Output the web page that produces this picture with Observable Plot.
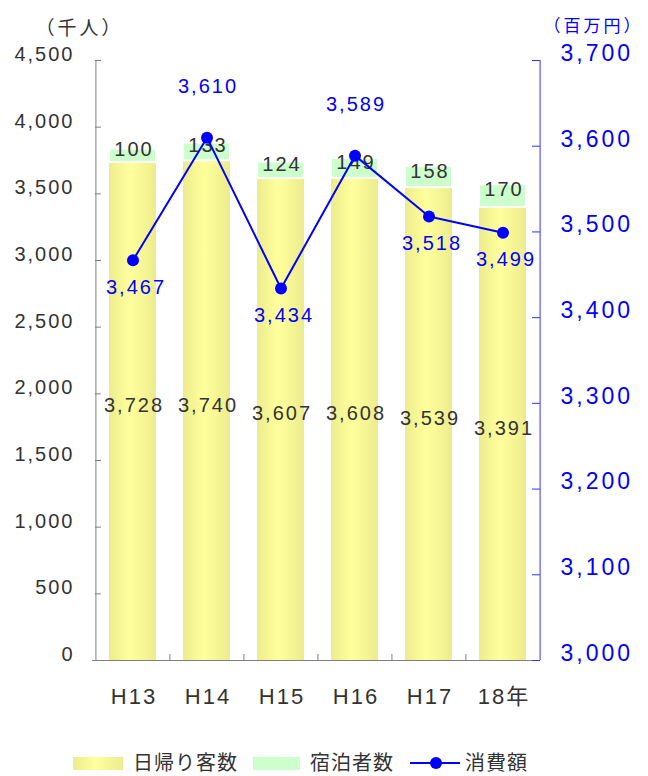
<!DOCTYPE html>
<html><head><meta charset="utf-8">
<script src="https://cdn.jsdelivr.net/npm/d3@7"></script>
<script src="https://cdn.jsdelivr.net/npm/@observablehq/plot@0.6"></script>
<style>
body{margin:0;background:#fff;}
#wrap{position:relative;width:648px;height:776px;overflow:hidden;}
.leg{position:absolute;font-family:'Noto Sans CJK JP',sans-serif;font-size:20px;color:#333;letter-spacing:1px;line-height:20px;white-space:nowrap;}
.sw{position:absolute;}
g[aria-label="y-axis tick label"][text-anchor="start"]{letter-spacing:3px;}
g[font-family*="Noto"]{letter-spacing:3px;}
</style></head><body><div id="wrap"><div id="chart"></div></div>
<script>
// ---- data ----
const years = ["H13","H14","H15","H16","H17","18年"];
const dayTrippers = [3728,3740,3607,3608,3539,3391];
const overnight = [100,133,124,149,158,170];
const spending = [3467,3610,3434,3589,3518,3499];
const leftTicks = [0,500,1000,1500,2000,2500,3000,3500,4000,4500];
const rightTicks = [3000,3100,3200,3300,3400,3500,3600,3700];
const seriesNames = ["日帰り客数","宿泊者数","消費額"];
const unitLeft = ["（千人）"];
const unitRight = ["（百万円）"];

// ---- layout ----
const W = 648, H = 735, mT = 60, mB = 75, mL = 95, mR = 108;
const fw = W - mL - mR, fh = H - mT - mB;
const step = fw / years.length;
const leftDomain = [0, 4500], rightDomain = [3000, 3700];
const toLeft = v => (v - rightDomain[0]) / (rightDomain[1] - rightDomain[0]) * (leftDomain[1] - leftDomain[0]);
const fromLeft = v => Math.round(v / (leftDomain[1] - leftDomain[0]) * (rightDomain[1] - rightDomain[0]) + rightDomain[0]);
const fmt = d3.format(",");
const blue = "#0000ff", axisBlue = "#3333ff", gray = "#808080", ink = "#333333";

const table = years.map((y, i) => ({
  year: y, day: dayTrippers[i], night: overnight[i], total: dayTrippers[i] + overnight[i],
  spend: spending[i], spendY: toLeft(spending[i]),
  peak: spending[i] > (i > 0 ? spending[i-1] : -Infinity) && spending[i] > (i < spending.length-1 ? spending[i+1] : -Infinity)
}));

const defsMark = () => {
  const defs = d3.create("svg:defs");
  const g = defs.append("linearGradient").attr("id","yg").attr("x1","0").attr("x2","1").attr("y1","0").attr("y2","0");
  g.append("stop").attr("offset","0%").attr("stop-color","#ecec8e");
  g.append("stop").attr("offset","45%").attr("stop-color","#ffff9c");
  g.append("stop").attr("offset","100%").attr("stop-color","#ecec8e");
  return defs.node();
};

const font = "'Liberation Sans','Noto Sans CJK JP',sans-serif";
const cjk = "'Noto Sans CJK JP',sans-serif";

const chart = Plot.plot({
  width: W, height: H,
  marginTop: mT, marginBottom: mB, marginLeft: mL, marginRight: mR,
  style: `font-family:${font};letter-spacing:2px;color:${ink};background:#fff;overflow:visible;`,
  x: {domain: years, paddingInner: 0.365, paddingOuter: 0.18, axis: null},
  y: {domain: leftDomain, axis: null, label: null},
  marks: [
    defsMark,
    Plot.barY(table, {x: "year", y: "day", fill: "url(#yg)"}),
    Plot.barY(table, {x: "year", y1: "day", y2: "total", fill: "#ccffcc", insetLeft: 1, insetRight: 1, insetBottom: 2}),
    Plot.ruleY([0], {stroke: gray, insetLeft: -3}),
    Plot.ruleX([years[0]], {dx: -step/2, stroke: gray}),
    Plot.ruleX([years[years.length-1]], {dx: step/2, stroke: axisBlue}),
    Plot.ruleY(leftTicks, {stroke: gray, insetRight: fw - 6}),
    Plot.ruleY(rightTicks.map(toLeft), {stroke: axisBlue, insetLeft: fw - 8}),
    Plot.ruleX(years.slice(1), {dx: -step/2, stroke: gray, insetTop: fh - 6}),
    Plot.axisY(leftTicks, {anchor: "left", tickSize: 0, tickPadding: 21, fontSize: 20, color: ink, fill: ink, dy: -6, tickFormat: fmt, label: null}),
    Plot.axisY(rightTicks.map(toLeft), {anchor: "right", tickSize: 0, tickPadding: 20, fontSize: 23, color: blue, fill: blue, dy: -7, tickFormat: d => fmt(fromLeft(d)), label: null}),
    Plot.text(table, {x: "year", y: d => d.day + d.night / 2, text: d => fmt(d.night), fontSize: 20, fill: ink, dy: -7, dx: 1}),
    Plot.line(table, {x: "year", y: "spendY", stroke: blue, strokeWidth: 2}),
    Plot.dot(table, {x: "year", y: "spendY", r: 6, fill: blue}),
    Plot.text(table.filter(d => d.peak), {x: "year", y: "spendY", text: d => fmt(d.spend), fontSize: 20, fill: blue, dy: -51, dx: 1}),
    Plot.text(table.filter(d => !d.peak), {x: "year", y: "spendY", text: d => fmt(d.spend), fontSize: 20, fill: blue, dy: 27, dx: 3}),
    Plot.text(table, {x: "year", y: d => d.day / 2, text: d => fmt(d.day), fontSize: 20, fill: ink, dy: -6, dx: 1}),
    Plot.text(years, {x: d => d, text: d => d, frameAnchor: "bottom", dy: 43, dx: 1, fontSize: 22, fill: ink}),
    Plot.text(unitLeft, {text: d => d, frameAnchor: "top-left", textAnchor: "start", dx: -60, dy: -39, fontSize: 19, fontFamily: cjk, fill: ink}),
    Plot.text(unitRight, {text: d => d, frameAnchor: "top-right", textAnchor: "start", dx: 3, dy: -41, fontSize: 17, fontFamily: cjk, fill: blue})
  ]
});
document.getElementById("chart").appendChild(chart);

// ---- legend ----
const wrap = document.getElementById("wrap");
function add(html){ wrap.insertAdjacentHTML("beforeend", html); }
add(`<div class="sw" style="left:73px;top:757px;width:50px;height:13px;background:linear-gradient(to right,#ecec8e,#ffff9c 45%,#ecec8e);"></div>`);
add(`<div class="leg" style="left:133px;top:752px;">${seriesNames[0]}</div>`);
add(`<div class="sw" style="left:253px;top:757px;width:47px;height:13px;background:#ccffcc;"></div>`);
add(`<div class="leg" style="left:310px;top:752px;">${seriesNames[1]}</div>`);
add(`<div class="sw" style="left:410px;top:762px;width:50px;height:2px;background:${blue};"></div>`);
add(`<div class="sw" style="left:430px;top:757px;width:12px;height:12px;border-radius:50%;background:${blue};"></div>`);
add(`<div class="leg" style="left:465px;top:752px;">${seriesNames[2]}</div>`);
</script></body></html>
